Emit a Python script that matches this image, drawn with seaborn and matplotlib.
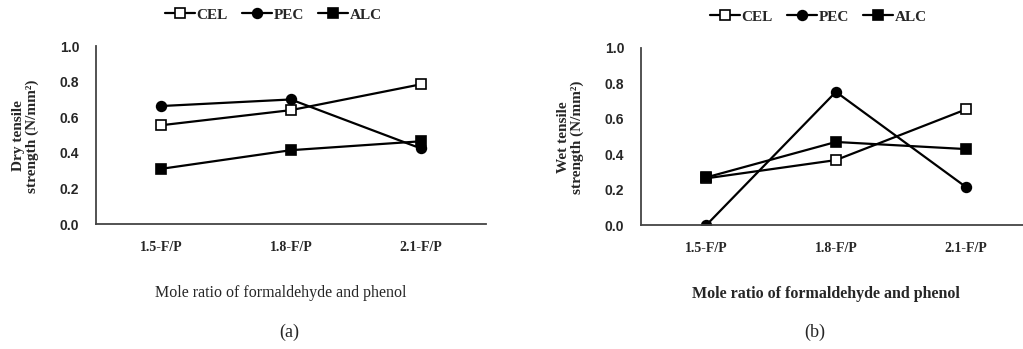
import numpy as np
import pandas as pd
import matplotlib
matplotlib.use("Agg")
import matplotlib.pyplot as plt
import seaborn as sns

# dados
categorias = ["1.5-F/P", "1.8-F/P", "2.1-F/P"]
series = ["CEL", "PEC", "ALC"]

seco_cel = [0.555, 0.64, 0.785]
seco_pec = [0.663, 0.70, 0.425]
seco_alc = [0.31, 0.415, 0.465]

umido_cel = [0.265, 0.368, 0.653]
umido_pec = [0.0, 0.752, 0.217]
umido_alc = [0.27, 0.47, 0.43]

ylabels = ["Dry tensile\nstrength (N/mm²)", "Wet tensile\nstrength (N/mm²)"]
xlabel = "Mole ratio of formaldehyde and phenol"
painel = ["(a)", "(b)"]

dados = [
    {"CEL": seco_cel, "PEC": seco_pec, "ALC": seco_alc},
    {"CEL": umido_cel, "PEC": umido_pec, "ALC": umido_alc},
]

estilo = {
    "CEL": dict(marker="s", markerfacecolor="white", markersize=7),
    "PEC": dict(marker="o", markerfacecolor="black", markersize=7),
    "ALC": dict(marker="s", markerfacecolor="black", markersize=7.5),
}

sns.set_style("white")
serif = ["Liberation Serif", "DejaVu Serif"]
sans = ["Liberation Sans", "DejaVu Sans"]

fig = plt.figure(figsize=(10.23, 3.49), dpi=100)
posicoes = [[0.0938, 0.358, 0.381, 0.510], [0.6266, 0.354, 0.381, 0.509]]

for i, pos in enumerate(posicoes):
    ax = fig.add_axes(pos)
    df = pd.DataFrame({"x": np.arange(len(categorias))})
    for nome in series:
        df[nome] = dados[i][nome]
        sns.lineplot(data=df, x="x", y=nome, ax=ax, color="black", linewidth=1.6,
                     markeredgecolor="black", markeredgewidth=1.2, label=nome,
                     **estilo[nome])

    ax.set_xlim(-0.5, 2.5)
    ax.set_ylim(0, 1.0)
    ax.set_yticks(np.arange(0, 1.01, 0.2))
    ax.set_yticklabels([f"{v:.1f}" for v in np.arange(0, 1.01, 0.2)],
                       family=sans, fontweight="bold", fontsize=10)
    ax.set_xticks(range(len(categorias)))
    ax.set_xticklabels(categorias, family=serif, fontweight="bold", fontsize=10)
    ax.set_xticks([0.5, 1.5, 2.5], minor=True)
    ax.tick_params(axis="x", which="major", length=0, pad=12)
    ax.tick_params(axis="x", which="minor", direction="in", length=4, width=1, color="#444444")
    ax.tick_params(axis="y", length=0, pad=12)

    for lado in ["top", "right"]:
        ax.spines[lado].set_visible(False)
    for lado in ["left", "bottom"]:
        ax.spines[lado].set_color("#444444")
        ax.spines[lado].set_linewidth(1.3)

    ax.set_ylabel(ylabels[i], family=serif, fontweight="bold", fontsize=11, linespacing=1.1)
    ax.yaxis.set_label_coords(-0.145, 0.495)
    ax.set_xlabel(xlabel, family=serif, fontsize=11.5,
                  fontweight="normal" if i == 0 else "bold")
    ax.xaxis.set_label_coords(0.474, -0.34)

    ax.legend(loc="center", bbox_to_anchor=(0.455, 1.175), ncol=3, frameon=False,
              handlelength=2.0, handletextpad=0.1, columnspacing=0.9,
              prop={"family": serif, "weight": "bold", "size": 11})

    ax.grid(False)

fig.text(0.283, 0.049, painel[0], family=serif, fontsize=13, ha="center", va="center")
fig.text(0.796, 0.049, painel[1], family=serif, fontsize=13, ha="center", va="center")

plt.savefig("out.png", dpi=100)
